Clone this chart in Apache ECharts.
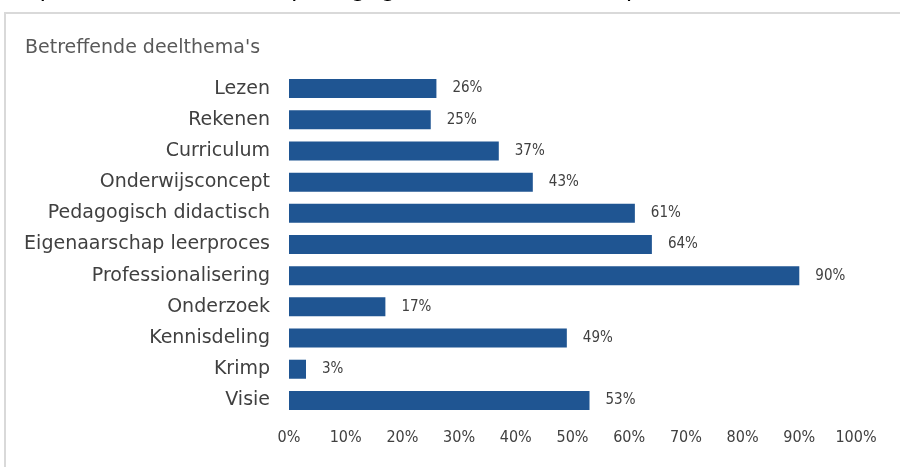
<!DOCTYPE html>
<html>
<head>
<meta charset="utf-8">
<script src="https://cdn.jsdelivr.net/npm/echarts@6/dist/echarts.min.js"></script>
<style>
  html, body { margin: 0; padding: 0; background: #fff; }
  #chart { width: 900px; height: 467px; }
</style>
</head>
<body>
<div id="chart"></div>
<script>
const categories = ['Lezen', 'Rekenen', 'Curriculum', 'Onderwijsconcept', 'Pedagogisch didactisch',
  'Eigenaarschap leerproces', 'Professionalisering', 'Onderzoek', 'Kennisdeling', 'Krimp', 'Visie']
const values = [26, 25, 37, 43, 61, 64, 90, 17, 49, 3, 53]
const title = "Betreffende deelthema's"
const topText = 'eerproces (64%) en het pedagogisch didactisch aanpak (61%).'

// wide font for the words, condensed one for the numbers
const textFont = '"DejaVu Sans", sans-serif'
const numFont = '"DejaVu Sans Condensed", "DejaVu Sans", sans-serif'
const labelColor = '#404040'

const chart = echarts.init(document.getElementById('chart'))
chart.setOption({
  animation: false,
  backgroundColor: '#fff',
  graphic: [
    {
      type: 'text',
      left: 0,
      top: -22,
      style: { text: topText, font: '24px ' + textFont, fill: '#000' }
    },
    {
      type: 'rect',
      shape: { x: 5, y: 13, width: 920, height: 480 },
      style: { fill: 'none', stroke: '#d9d9d9', lineWidth: 2 }
    }
  ],
  title: {
    text: title,
    left: 20,
    top: 34,
    textStyle: { color: '#595959', fontSize: 19, fontWeight: 'normal', fontFamily: textFont }
  },
  grid: {
    left: 289,
    right: 44,
    top: 73,
    bottom: 51
  },
  xAxis: {
    type: 'value',
    min: 0,
    max: 100,
    interval: 10,
    axisLine: { show: false },
    axisTick: { show: false },
    splitLine: { show: false },
    axisLabel: {
      formatter: '{value}%',
      color: labelColor,
      fontSize: 16,
      fontFamily: numFont,
      margin: 14
    }
  },
  yAxis: {
    type: 'category',
    inverse: true,
    data: categories,
    axisLine: { show: false },
    axisTick: { show: false },
    axisLabel: {
      color: labelColor,
      fontSize: 19,
      fontFamily: textFont,
      margin: 19
    }
  },
  series: [{
    type: 'bar',
    data: values,
    barCategoryGap: '39%',
    itemStyle: { color: '#1f5592' },
    label: {
      show: true,
      position: 'right',
      distance: 16,
      formatter: '{c}%',
      color: labelColor,
      fontSize: 15,
      fontFamily: numFont
    }
  }]
})
</script>
</body>
</html>
